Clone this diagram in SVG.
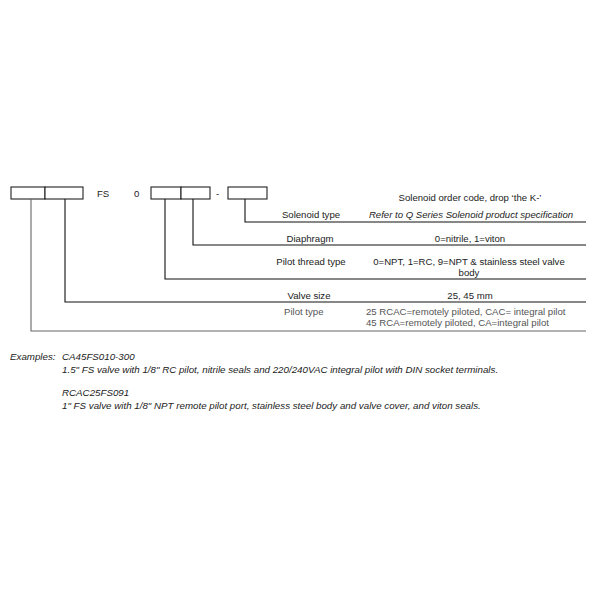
<svg xmlns="http://www.w3.org/2000/svg" width="600" height="600" viewBox="0 0 600 600">
<style>
.t{font-family:"Liberation Sans",Arial,sans-serif;font-size:9.6px;fill:#222}
.c{text-anchor:middle}
.i{font-style:italic}
.e{font-size:9.75px}
.g{fill:#555}
.box{fill:#fff;stroke:#222;stroke-width:1.1}
.ln{fill:none;stroke:#111;stroke-width:1.1}
.lg{fill:none;stroke:#666;stroke-width:1.1}
</style>
<rect width="600" height="600" fill="#fff"/>
<g id="code">
<g id="box-pilot-type"><rect class="box" x="11" y="187" width="34" height="12"/></g>
<g id="box-valve-size"><rect class="box" x="45" y="187" width="38" height="12"/></g>
<text class="t" x="97" y="197">FS</text>
<text class="t" x="134" y="197">0</text>
<g id="box-pilot-thread"><rect class="box" x="151" y="187" width="30" height="12"/></g>
<g id="box-diaphragm"><rect class="box" x="181" y="187" width="29" height="12"/></g>
<text class="t" x="216" y="197">-</text>
<g id="box-solenoid"><rect class="box" x="228" y="187" width="39" height="12"/></g>
</g>
<g id="connectors">
<polyline class="ln" points="245,199 245,222 586,222"/>
<polyline class="ln" points="193,199 193,245 586,245"/>
<polyline class="ln" points="165,199 165,279 586,279"/>
<polyline class="ln" points="65,199 65,302 586,302"/>
<polyline class="lg" points="31,199 31,331 586,331"/>
</g>
<g id="solenoid-type">
<text class="t c" x="470" y="201">Solenoid order code, drop ‘the K-’</text>
<text class="t c i" x="471" y="218">Refer to Q Series Solenoid product specification</text>
<text class="t c" x="311" y="218">Solenoid type</text>
</g>
<g id="diaphragm">
<text class="t c" x="310" y="242">Diaphragm</text>
<text class="t c" x="470" y="242">0=nitrile, 1=viton</text>
</g>
<g id="pilot-thread-type">
<text class="t c" x="311" y="265">Pilot thread type</text>
<text class="t c" x="469" y="265">0=NPT, 1=RC, 9=NPT &amp; stainless steel valve</text>
<text class="t c" x="469" y="276">body</text>
</g>
<g id="valve-size">
<text class="t c" x="309" y="299">Valve size</text>
<text class="t c" x="470" y="299">25, 45 mm</text>
</g>
<g id="pilot-type">
<text class="t g" x="284" y="315">Pilot type</text>
<text class="t g" x="366" y="315">25 RCAC=remotely piloted, CAC= integral pilot</text>
<text class="t g" x="366" y="326">45 RCA=remotely piloted, CA=integral pilot</text>
</g>
<g id="examples">
<text class="t i e" x="10" y="360">Examples:</text>
<text class="t i e" x="62" y="360">CA45FS010-300</text>
<text class="t i e" x="62" y="373">1.5" FS valve with 1/8" RC pilot, nitrile seals and 220/240VAC integral pilot with DIN socket terminals.</text>
<text class="t i e" x="62" y="396">RCAC25FS091</text>
<text class="t i e" x="62" y="409">1" FS valve with 1/8" NPT remote pilot port, stainless steel body and valve cover, and viton seals.</text>
</g>
</svg>
